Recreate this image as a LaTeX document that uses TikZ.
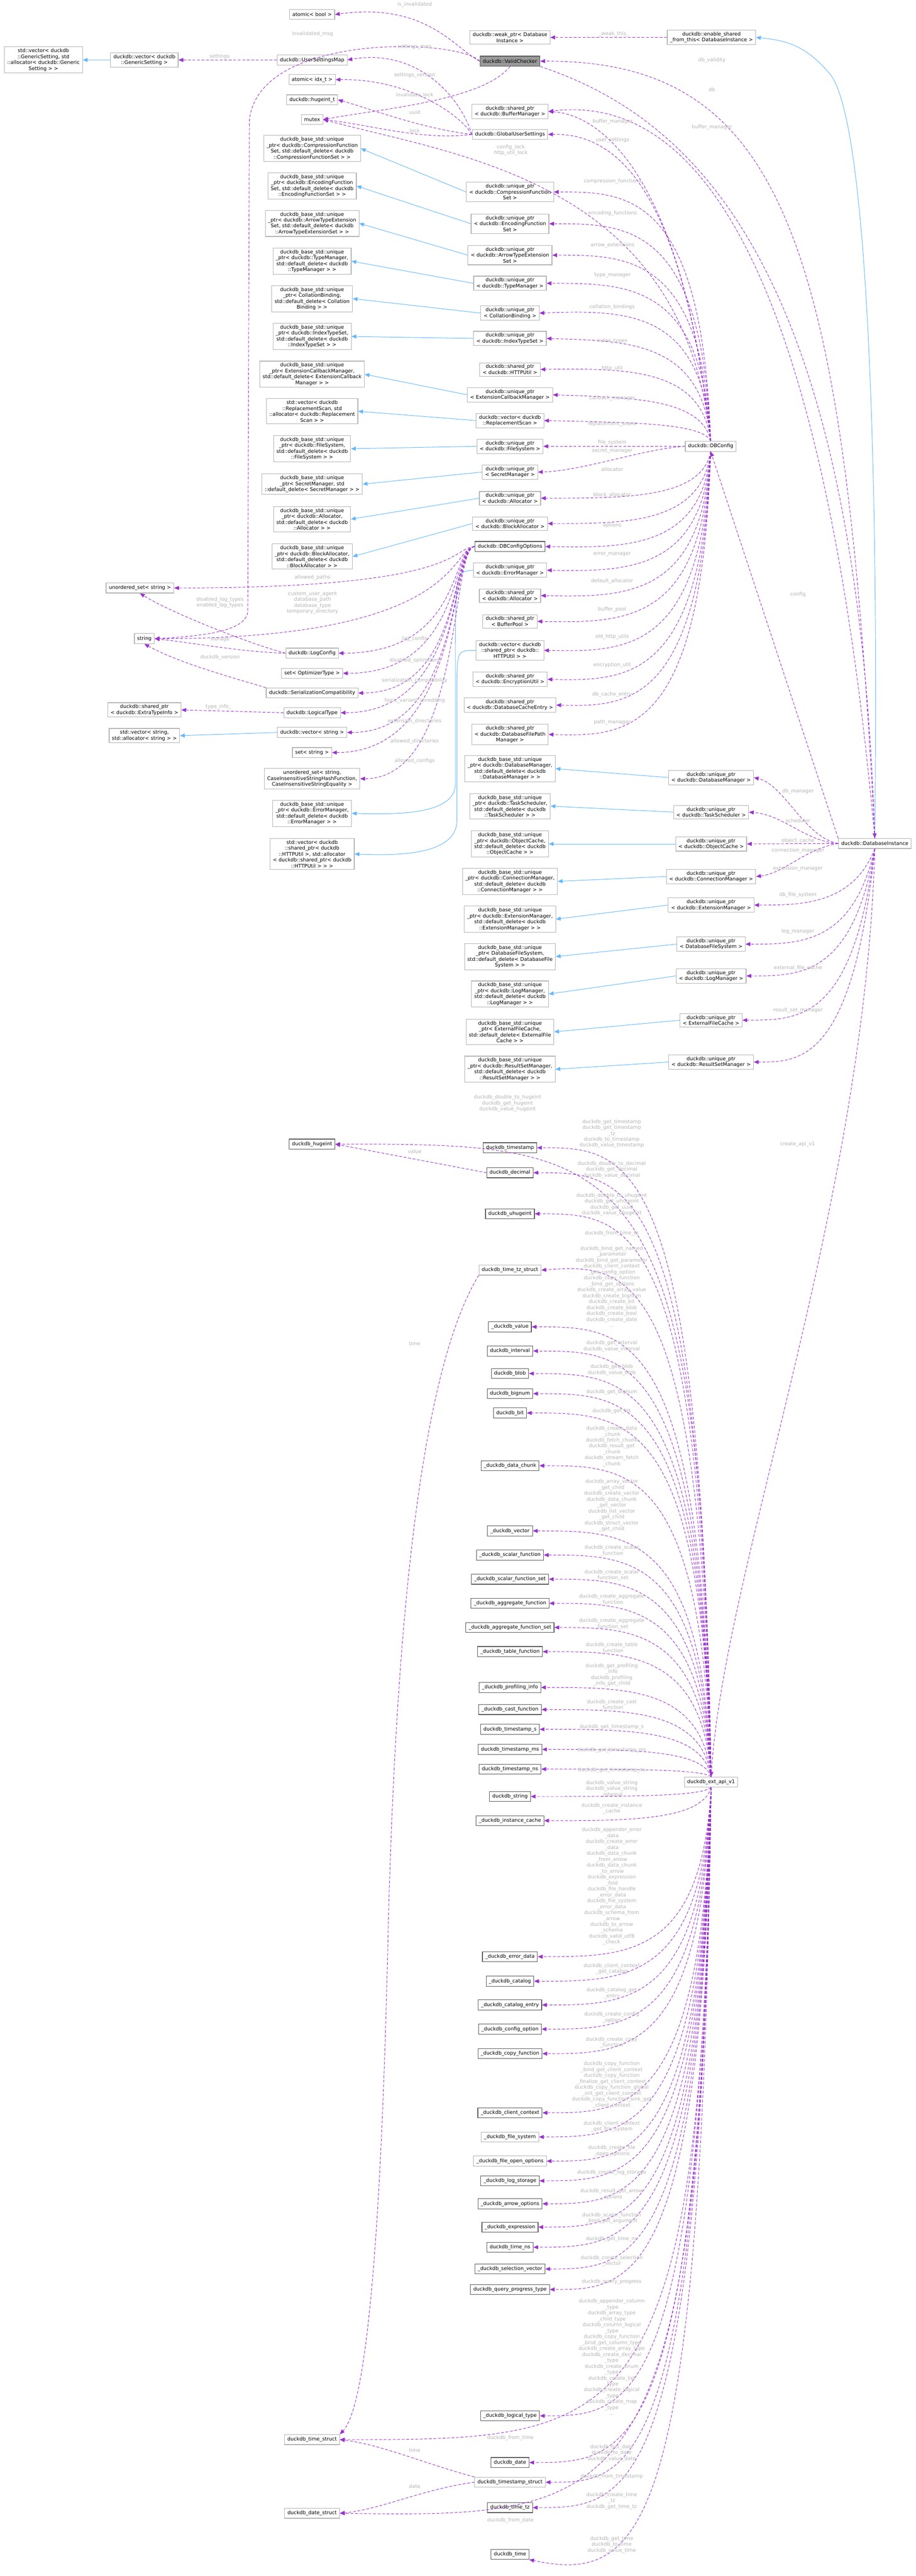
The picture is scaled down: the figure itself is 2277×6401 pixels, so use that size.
\documentclass[tikz,border=0pt]{standalone}
\usepackage{fontspec}
\setmainfont{DejaVu Sans}
\usetikzlibrary{arrows.meta}
\definecolor{purp}{HTML}{9A32CD}
\definecolor{blu}{HTML}{63B8FF}
\definecolor{lgray}{HTML}{B3B3B3}
\newcounter{lc}
\newcommand\Lb[2]{\stepcounter{lc}\node[lbl] (l\thelc) at (#1) {#2};}
\newcommand\CfgN[2]{\draw[mem] (cfg.north) .. controls (1745,#2) and (1560,#2) .. (#1.east);}
\newcommand\CfgS[2]{\draw[mem] (cfg.south) .. controls (1745,#2) and (1560,#2) .. (#1.east);}
\newcommand\ExN[2]{\draw[mem] (ext.north) .. controls (1745,#2) and (1560,#2) .. (#1.east);}
\newcommand\ExS[2]{\draw[mem] (ext.south) .. controls (1745,#2) and (1560,#2) .. (#1.east);}
\newcommand\OpE[2]{\draw[mem] (opt.west) .. controls (1120,1362) and (1150,#2) .. (#1.east);}
\newcommand\DiE[2]{\draw[mem] (di.south) .. controls (2120,#2) and (1990,#2) .. (#1.east);}
\newcommand\Inh[2]{\draw[inh] (#1.west) -- (#2.east);}
\begin{document}
\begin{tikzpicture}[x=0.01cm,y=-0.01cm,
  every node/.style={font=\fontsize{3.55pt}{4.18pt}\selectfont},
  box/.style={draw=lgray,line width=0.4pt,fill=white,align=center,inner xsep=0.07cm,inner ysep=0.045cm,minimum height=0.25cm},
  boxd/.style={box,draw=black!65},
  lbl/.style={text=lgray,align=center,inner sep=0pt},
  mem/.style={purp,line width=0.35pt,dash pattern=on 2pt off 1.2pt,-{Triangle[length=3.4pt,width=2.8pt]}},
  inh/.style={blu,line width=0.35pt,-{Triangle[length=3.4pt,width=2.8pt]}}]
\path[use as bounding box,fill=white] (0,0) rectangle (2277,6401);
% ---------- top nodes
\node[box] (ab) at (776,36) {atomic< bool >};
\node[box] (wp) at (1268,93) {duckdb::weak\_ptr< Database\\Instance >};
\node[box] (esf) at (1769,93) {duckdb::enable\_shared\\\_from\_this< DatabaseInstance >};
\node[box,fill=black!40,draw=black!65] (vc) at (1268,152) {duckdb::ValidChecker};
\node[box] (svgs) at (108,149) {std::vector< duckdb\\::GenericSetting, std\\::allocator< duckdb::Generic\\Setting > >};
\node[box] (vgs) at (359,149) {duckdb::vector< duckdb\\::GenericSetting >};
\node[box] (usm) at (776,149) {duckdb::UserSettingsMap};
\node[box] (aidx) at (776,198) {atomic< idx\_t >};
\node[box] (hug) at (776,248) {duckdb::hugeint\_t};
\node[box] (mtx) at (776,297) {mutex};
\node[box] (bmp) at (1268,277) {duckdb::shared\_ptr\\< duckdb::BufferManager >};
\node[box] (gus) at (1268,334) {duckdb::GlobalUserSettings};
\node[box] (bcomp) at (776,369) {duckdb\_base\_std::unique\\\_ptr< duckdb::CompressionFunction\\Set, std::default\_delete< duckdb\\::CompressionFunctionSet > >};
\node[box] (ucomp) at (1268,477) {duckdb::unique\_ptr\\< duckdb::CompressionFunction\\Set >};
\node[box] (benc) at (776,462) {duckdb\_base\_std::unique\\\_ptr< duckdb::EncodingFunction\\Set, std::default\_delete< duckdb\\::EncodingFunctionSet > >};
\node[box] (uenc) at (1268,556) {duckdb::unique\_ptr\\< duckdb::EncodingFunction\\Set >};
\node[box] (barrow) at (776,555) {duckdb\_base\_std::unique\\\_ptr< duckdb::ArrowTypeExtension\\Set, std::default\_delete< duckdb\\::ArrowTypeExtensionSet > >};
\node[box] (uarrow) at (1268,634) {duckdb::unique\_ptr\\< duckdb::ArrowTypeExtension\\Set >};
\node[box] (btm) at (776,649) {duckdb\_base\_std::unique\\\_ptr< duckdb::TypeManager,\\std::default\_delete< duckdb\\::TypeManager > >};
\node[box] (utm) at (1268,704) {duckdb::unique\_ptr\\< duckdb::TypeManager >};
\node[box] (bcoll) at (776,742) {duckdb\_base\_std::unique\\\_ptr< CollationBinding,\\std::default\_delete< Collation\\Binding > >};
\node[box] (ucoll) at (1268,778) {duckdb::unique\_ptr\\< CollationBinding >};
\node[box] (bidx) at (776,836) {duckdb\_base\_std::unique\\\_ptr< duckdb::IndexTypeSet,\\std::default\_delete< duckdb\\::IndexTypeSet > >};
\node[box] (uidx) at (1268,841) {duckdb::unique\_ptr\\< duckdb::IndexTypeSet >};
\node[box] (shttp) at (1268,918) {duckdb::shared\_ptr\\< duckdb::HTTPUtil >};
\node[box] (bext) at (776,930) {duckdb\_base\_std::unique\\\_ptr< ExtensionCallbackManager,\\std::default\_delete< ExtensionCallback\\Manager > >};
\node[box] (uext) at (1268,981) {duckdb::unique\_ptr\\< ExtensionCallbackManager >};
\node[box] (brep) at (776,1022) {std::vector< duckdb\\::ReplacementScan, std\\::allocator< duckdb::Replacement\\Scan > >};
\node[box] (urep) at (1268,1045) {duckdb::vector< duckdb\\::ReplacementScan >};
\node[box] (bfs) at (776,1115) {duckdb\_base\_std::unique\\\_ptr< duckdb::FileSystem,\\std::default\_delete< duckdb\\::FileSystem > >};
\node[box] (ufs) at (1268,1109) {duckdb::unique\_ptr\\< duckdb::FileSystem >};
\node[box] (usec) at (1268,1173) {duckdb::unique\_ptr\\< SecretManager >};
\node[box] (bsec) at (776,1203) {duckdb\_base\_std::unique\\\_ptr< SecretManager, std\\::default\_delete< SecretManager > >};
\node[box] (ualloc) at (1268,1238) {duckdb::unique\_ptr\\< duckdb::Allocator >};
\node[box] (balloc) at (776,1290) {duckdb\_base\_std::unique\\\_ptr< duckdb::Allocator,\\std::default\_delete< duckdb\\::Allocator > >};
\node[box] (ublk) at (1268,1301) {duckdb::unique\_ptr\\< duckdb::BlockAllocator >};
\node[box] (bblk) at (776,1383) {duckdb\_base\_std::unique\\\_ptr< duckdb::BlockAllocator,\\std::default\_delete< duckdb\\::BlockAllocator > >};
\node[boxd] (opt) at (1268,1358) {duckdb::DBConfigOptions};
\node[box] (uerr) at (1268,1417) {duckdb::unique\_ptr\\< duckdb::ErrorManager >};
\node[box] (salloc) at (1268,1480) {duckdb::shared\_ptr\\< duckdb::Allocator >};
\node[box] (sbp) at (1268,1544) {duckdb::shared\_ptr\\< BufferPool >};
\node[box] (vhttp) at (1268,1616) {duckdb::vector< duckdb\\::shared\_ptr< duckdb::\\HTTPUtil > >};
\node[box] (senc) at (1268,1688) {duckdb::shared\_ptr\\< duckdb::EncryptionUtil >};
\node[box] (sdbc) at (1268,1752) {duckdb::shared\_ptr\\< duckdb::DatabaseCacheEntry >};
\node[box] (sdbp) at (1268,1825) {duckdb::shared\_ptr\\< duckdb::DatabaseFilePath\\Manager >};
\node[box] (cfg) at (1767,1109) {duckdb::DBConfig};
\node[box] (uset) at (348,1461) {unordered\_set< string >};
\node[box] (str) at (359,1587) {string};
\node[box] (logc) at (776,1623) {duckdb::LogConfig};
\node[box] (setopt) at (776,1673) {set< OptimizerType >};
\node[box] (ser) at (776,1722) {duckdb::SerializationCompatibility};
\node[box] (sxti) at (359,1764) {duckdb::shared\_ptr\\< duckdb::ExtraTypeInfo >};
\node[box] (lt) at (776,1771) {duckdb::LogicalType};
\node[box] (svs) at (359,1828) {std::vector< string,\\std::allocator< string > >};
\node[box] (vs) at (776,1820) {duckdb::vector< string >};
\node[box] (sets) at (776,1870) {set< string >};
\node[box] (usci) at (776,1935) {unordered\_set< string,\\CaseInsensitiveStringHashFunction,\\CaseInsensitiveStringEquality >};
\node[box] (berr) at (776,2021) {duckdb\_base\_std::unique\\\_ptr< duckdb::ErrorManager,\\std::default\_delete< duckdb\\::ErrorManager > >};
\node[box] (bvh) at (776,2122) {std::vector< duckdb\\::shared\_ptr< duckdb\\::HTTPUtil >, std::allocator\\< duckdb::shared\_ptr< duckdb\\::HTTPUtil > > >};
% base / unique for DatabaseInstance
\node[box] (bdm) at (1268,1910) {duckdb\_base\_std::unique\\\_ptr< duckdb::DatabaseManager,\\std::default\_delete< duckdb\\::DatabaseManager > >};
\node[box] (bts) at (1268,2003) {duckdb\_base\_std::unique\\\_ptr< duckdb::TaskScheduler,\\std::default\_delete< duckdb\\::TaskScheduler > >};
\node[box] (boc) at (1268,2097) {duckdb\_base\_std::unique\\\_ptr< duckdb::ObjectCache,\\std::default\_delete< duckdb\\::ObjectCache > >};
\node[box] (bcm) at (1268,2190) {duckdb\_base\_std::unique\\\_ptr< duckdb::ConnectionManager,\\std::default\_delete< duckdb\\::ConnectionManager > >};
\node[box] (bem) at (1268,2284) {duckdb\_base\_std::unique\\\_ptr< duckdb::ExtensionManager,\\std::default\_delete< duckdb\\::ExtensionManager > >};
\node[box] (bdfs) at (1268,2377) {duckdb\_base\_std::unique\\\_ptr< DatabaseFileSystem,\\std::default\_delete< DatabaseFile\\System > >};
\node[box] (blm) at (1268,2470) {duckdb\_base\_std::unique\\\_ptr< duckdb::LogManager,\\std::default\_delete< duckdb\\::LogManager > >};
\node[box] (befc) at (1268,2564) {duckdb\_base\_std::unique\\\_ptr< ExternalFileCache,\\std::default\_delete< ExternalFile\\Cache > >};
\node[box] (brsm) at (1268,2657) {duckdb\_base\_std::unique\\\_ptr< duckdb::ResultSetManager,\\std::default\_delete< duckdb\\::ResultSetManager > >};
\node[box] (udm) at (1768,1932) {duckdb::unique\_ptr\\< duckdb::DatabaseManager >};
\node[box] (uts) at (1768,2018) {duckdb::unique\_ptr\\< duckdb::TaskScheduler >};
\node[box] (uoc) at (1768,2097) {duckdb::unique\_ptr\\< duckdb::ObjectCache >};
\node[box] (ucm) at (1768,2178) {duckdb::unique\_ptr\\< duckdb::ConnectionManager >};
\node[box] (uem) at (1768,2249) {duckdb::unique\_ptr\\< duckdb::ExtensionManager >};
\node[box] (udfs) at (1768,2346) {duckdb::unique\_ptr\\< DatabaseFileSystem >};
\node[box] (ulm) at (1768,2425) {duckdb::unique\_ptr\\< duckdb::LogManager >};
\node[box] (uefc) at (1768,2535) {duckdb::unique\_ptr\\< ExternalFileCache >};
\node[box] (ursm) at (1768,2639) {duckdb::unique\_ptr\\< duckdb::ResultSetManager >};
\node[box] (di) at (2175,2096) {duckdb::DatabaseInstance};
% lower nodes
\node[boxd] (hug2) at (776,2843) {duckdb\_hugeint};
\node[boxd] (tsp) at (1268,2852) {duckdb\_timestamp};
\node[boxd] (dec) at (1268,2914) {duckdb\_decimal};
\node[boxd] (uhug) at (1268,3016) {duckdb\_uhugeint};
\node[box] (tzs) at (1268,3156) {duckdb\_time\_tz\_struct};
\node[boxd] (val) at (1268,3297) {\_duckdb\_value};
\node[boxd] (intv) at (1268,3357) {duckdb\_interval};
\node[boxd] (blob) at (1268,3413) {duckdb\_blob};
\node[boxd] (bign) at (1268,3463) {duckdb\_bignum};
\node[boxd] (bit) at (1268,3511) {duckdb\_bit};
\node[boxd] (dch) at (1268,3642) {\_duckdb\_data\_chunk};
\node[boxd] (vec) at (1268,3804) {\_duckdb\_vector};
\node[boxd] (sf) at (1268,3864) {\_duckdb\_scalar\_function};
\node[boxd] (sfs) at (1268,3924) {\_duckdb\_scalar\_function\_set};
\node[boxd] (af) at (1268,3984) {\_duckdb\_aggregate\_function};
\node[boxd] (afs) at (1268,4044) {\_duckdb\_aggregate\_function\_set};
\node[boxd] (tf) at (1268,4104) {\_duckdb\_table\_function};
\node[boxd] (pi) at (1268,4193) {\_duckdb\_profiling\_info};
\node[boxd] (cf) at (1268,4248) {\_duckdb\_cast\_function};
\node[boxd] (tss) at (1268,4297) {duckdb\_timestamp\_s};
\node[boxd] (tsms) at (1268,4347) {duckdb\_timestamp\_ms};
\node[boxd] (tsns) at (1268,4396) {duckdb\_timestamp\_ns};
\node[boxd] (dstr) at (1268,4464) {duckdb\_string};
\node[boxd] (ic) at (1268,4524) {\_duckdb\_instance\_cache};
\node[box] (ext) at (1768,4428) {duckdb\_ext\_api\_v1};
\node[boxd] (err) at (1268,4862) {\_duckdb\_error\_data};
\node[boxd] (cat) at (1268,4923) {\_duckdb\_catalog};
\node[boxd] (cate) at (1268,4982) {\_duckdb\_catalog\_entry};
\node[boxd] (cfo) at (1268,5042) {\_duckdb\_config\_option};
\node[boxd] (cpf) at (1268,5103) {\_duckdb\_copy\_function};
\node[boxd] (cc) at (1268,5250) {\_duckdb\_client\_context};
\node[box] (fsys) at (1268,5310) {\_duckdb\_file\_system};
\node[box] (foo) at (1268,5370) {\_duckdb\_file\_open\_options};
\node[boxd] (lst) at (1268,5419) {\_duckdb\_log\_storage};
\node[boxd] (ao) at (1268,5476) {\_duckdb\_arrow\_options};
\node[boxd] (expr) at (1268,5534) {\_duckdb\_expression};
\node[boxd] (tns) at (1268,5584) {duckdb\_time\_ns};
\node[boxd] (sv) at (1268,5638) {\_duckdb\_selection\_vector};
\node[boxd] (qpt) at (1268,5689) {duckdb\_query\_progress\_type};
\node[boxd] (ltp) at (1268,6003) {\_duckdb\_logical\_type};
\node[boxd] (date) at (1268,6119) {duckdb\_date};
\node[box] (tsst) at (1268,6168) {duckdb\_timestamp\_struct};
\node[boxd] (ttz) at (1268,6231) {duckdb\_time\_tz};
\node[boxd] (tim) at (1268,6347) {duckdb\_time};
\node[box] (tmstr) at (776,6062) {duckdb\_time\_struct};
\node[box] (dtstr) at (776,6245) {duckdb\_date\_struct};
% ---------- inheritance
\Inh{vgs}{svgs}
\Inh{ucomp}{bcomp}\Inh{uenc}{benc}\Inh{uarrow}{barrow}\Inh{utm}{btm}
\Inh{ucoll}{bcoll}\Inh{uidx}{bidx}\Inh{uext}{bext}\Inh{urep}{brep}
\Inh{ufs}{bfs}\Inh{usec}{bsec}\Inh{ualloc}{balloc}\Inh{ublk}{bblk}
\Inh{vs}{svs}
\Inh{udm}{bdm}\Inh{uts}{bts}\Inh{uoc}{boc}\Inh{ucm}{bcm}\Inh{uem}{bem}
\Inh{udfs}{bdfs}\Inh{ulm}{blm}\Inh{uefc}{befc}\Inh{ursm}{brsm}
\draw[inh] (uerr.west) .. controls (1134,1420) .. (1132,1600) -- (1132,1950) .. controls (1130,2021) and (1000,2025) .. (berr.east);
\draw[inh] (vhttp.west) .. controls (1137,1616) .. (1136,1700) -- (1136,2040) .. controls (1134,2122) and (1000,2127) .. (bvh.east);
\draw[inh] (di.north) .. controls (2185,1200) and (2160,280) .. (2060,180) .. controls (2000,110) and (1950,100) .. (esf.east);
% ---------- top member edges
\draw[mem] (esf.west) -- (wp.east);
\draw[mem] (vgs.east) ++(0,0) (usm.west) -- (vgs.east);
\draw[mem] (vc.west) .. controls (1130,120) and (1060,5) .. (ab.east);
\draw[mem] (vc.west) .. controls (1140,95) and (640,80) .. (620,300) -- (616,1520) .. controls (612,1565) and (520,1580) .. (str.east);
\draw[mem] (vc.south) .. controls (1200,250) and (950,270) .. (mtx.east);
\draw[mem] (gus.west) .. controls (1140,230) and (1030,120) .. (usm.east);
\draw[mem] (gus.west) .. controls (1140,280) and (1010,195) .. (aidx.east);
\draw[mem] (gus.west) .. controls (1050,320) and (920,270) .. (hug.east);
\draw[mem] (gus.west) .. controls (1050,350) and (920,310) .. (mtx.east);
\draw[mem] (cfg.north) .. controls (1700,450) and (1150,390) .. (mtx.east);
\draw[mem] (cfg.north) .. controls (1700,500) and (1550,330) .. (gus.east);
\draw[mem] (cfg.north) .. controls (1700,450) and (1500,285) .. (bmp.east);
\draw[mem] (di.north) .. controls (2050,700) and (1750,230) .. (bmp.east);
\draw[mem] (di.north) .. controls (2100,600) and (1950,150) .. (vc.east);
\draw[mem] (vc.south east) .. controls (1750,300) and (2130,700) .. (di.north);
\draw[mem] (di.north west) -- (cfg.south);
% ---------- DBConfig members
\CfgN{ucomp}{477}\CfgN{uenc}{556}\CfgN{uarrow}{634}\CfgN{utm}{704}
\CfgN{ucoll}{770}\CfgN{uidx}{847}\CfgN{shttp}{915}\CfgN{uext}{988}\CfgN{urep}{1050}
\draw[mem] (cfg.west) -- (ufs.east);
\draw[mem] (cfg.west) .. controls (1600,1115) and (1450,1170) .. (usec.east);
\CfgS{ualloc}{1238}\CfgS{ublk}{1301}\CfgS{opt}{1362}\CfgS{uerr}{1420}\CfgS{salloc}{1484}
\CfgS{sbp}{1548}\CfgS{vhttp}{1620}\CfgS{senc}{1692}\CfgS{sdbc}{1756}\CfgS{sdbp}{1830}
% ---------- DBConfigOptions members
\OpE{uset}{1461}\OpE{str}{1587}\OpE{logc}{1623}\OpE{setopt}{1673}\OpE{ser}{1722}
\OpE{lt}{1771}\OpE{vs}{1820}\OpE{sets}{1870}\OpE{usci}{1935}
\draw[mem] (logc.west) .. controls (620,1600) and (420,1520) .. (uset.south);
\draw[mem] (logc.west) .. controls (600,1620) and (500,1600) .. (str.east);
\draw[mem] (ser.north west) .. controls (600,1690) and (450,1650) .. (str.south);
\draw[mem] (lt.west) -- (sxti.east);
% ---------- DatabaseInstance members
\draw[mem] (di.west) .. controls (2000,2080) and (1950,1950) .. (udm.east);
\draw[mem] (di.west) .. controls (2000,2090) and (1950,2025) .. (uts.east);
\draw[mem] (di.west) -- (uoc.east);
\draw[mem] (di.west) .. controls (2000,2110) and (1950,2170) .. (ucm.east);
\DiE{uem}{2249}\DiE{udfs}{2346}\DiE{ulm}{2425}\DiE{uefc}{2535}\DiE{ursm}{2639}
\draw[mem] (di.south) .. controls (2150,3000) and (1800,3900) .. (ext.north);
% ---------- ext api
\ExN{hug2}{2843}\ExN{tsp}{2852}\ExN{dec}{2914}\ExN{uhug}{3016}\ExN{tzs}{3140}
\ExN{val}{3297}\ExN{intv}{3357}\ExN{blob}{3413}\ExN{bign}{3463}\ExN{bit}{3511}
\ExN{dch}{3642}\ExN{vec}{3804}\ExN{sf}{3864}\ExN{sfs}{3924}\ExN{af}{3984}\ExN{afs}{4044}
\ExN{tf}{4104}\ExN{pi}{4193}\ExN{cf}{4248}\ExN{tss}{4297}\ExN{tsms}{4347}\ExN{tsns}{4396}
\ExS{dstr}{4464}\ExS{ic}{4524}\ExS{err}{4862}\ExS{cat}{4923}\ExS{cate}{4982}\ExS{cfo}{5042}
\ExS{cpf}{5103}\ExS{cc}{5250}\ExS{fsys}{5310}\ExS{foo}{5370}\ExS{lst}{5419}\ExS{ao}{5476}
\ExS{expr}{5534}\ExS{tns}{5584}\ExS{sv}{5638}\ExS{qpt}{5689}\ExS{ltp}{6003}
\ExS{tmstr}{6062}\ExS{date}{6119}\ExS{tsst}{6168}\ExS{ttz}{6231}\ExS{dtstr}{6255}
\draw[mem] (ext.south) .. controls (1745,6300) and (1600,6420) .. (tim.south east);
\draw[mem] (dec.west) -- (hug2.east);
\draw[mem] (tzs.south west) .. controls (1080,3350) and (990,3800) .. (965,4800) .. controls (945,5700) and (900,5990) .. (tmstr.north east);
\draw[mem] (tsst.north west) .. controls (1050,6120) and (950,6075) .. (tmstr.east);
\draw[mem] (tsst.west) .. controls (1050,6185) and (950,6235) .. (dtstr.east);
% ---------- labels
\Lb{1031,11}{is\_invalidated}
\Lb{777,85}{invalidated\_msg}
\Lb{1031,116}{settings\_map}
\Lb{546,141}{settings}
\Lb{1031,187}{settings\_version}
\Lb{1031,237}{invalidate\_lock}
\Lb{1031,279}{uuid}
\Lb{1031,325}{lock}
\Lb{1526,85}{\_weak\_this\_}
\Lb{1770,150}{db\_validity}
\Lb{1770,222}{db}
\Lb{1523,302}{buffer\_manager}
\Lb{1770,316}{buffer\_manager}
\Lb{1523,348}{user\_settings}
\Lb{1270,373}{config\_lock\\http\_util\_lock}
\Lb{1523,450}{compression\_functions}
\Lb{1523,530}{encoding\_functions}
\Lb{1523,609}{arrow\_extensions}
\Lb{1523,684}{type\_manager}
\Lb{1522,763}{collation\_bindings}
\Lb{1522,847}{index\_types}
\Lb{1522,915}{http\_util}
\Lb{1522,990}{callback\_manager}
\Lb{1522,1054}{replacement\_scans}
\Lb{1522,1099}{file\_system}
\Lb{1522,1120}{secret\_manager}
\Lb{1522,1166}{allocator}
\Lb{1522,1230}{block\_allocator}
\Lb{1522,1305}{options}
\Lb{1522,1377}{error\_manager}
\Lb{1522,1444}{default\_allocator}
\Lb{1522,1514}{buffer\_pool}
\Lb{1522,1582}{old\_http\_utils}
\Lb{1522,1653}{encryption\_util}
\Lb{1522,1726}{db\_cache\_entry}
\Lb{1522,1795}{path\_manager}
\Lb{1984,1477}{config}
\Lb{777,1435}{allowed\_paths}
\Lb{777,1498}{custom\_user\_agent\\database\_path\\database\_type\\temporary\_directory}
\Lb{547,1497}{disabled\_log\_types\\enabled\_log\_types}
\Lb{547,1589}{storage}
\Lb{547,1634}{duckdb\_version}
\Lb{1031,1587}{log\_config}
\Lb{1031,1641}{disabled\_optimizers}
\Lb{1031,1691}{serialization\_compatibility}
\Lb{1031,1741}{force\_variant\_shredding}
\Lb{543,1756}{type\_info\_}
\Lb{1031,1792}{extension\_directories}
\Lb{1031,1842}{allowed\_directories}
\Lb{1031,1891}{allowed\_configs}
\Lb{1984,1966}{db\_manager}
\Lb{1984,2039}{scheduler}
\Lb{1984,2089}{object\_cache}
\Lb{1984,2114}{connection\_manager}
\Lb{1984,2158}{extension\_manager}
\Lb{1984,2224}{db\_file\_system}
\Lb{1984,2314}{log\_manager}
\Lb{1984,2405}{external\_file\_cache}
\Lb{1984,2511}{result\_set\_manager}
\Lb{1983,2843}{create\_api\_v1}
\Lb{1262,2742}{duckdb\_double\_to\_hugeint\\duckdb\_get\_hugeint\\duckdb\_value\_hugeint}
\Lb{1031,2861}{value}
\Lb{1521,2817}{duckdb\_get\_timestamp\\duckdb\_get\_timestamp\\\_tz\\duckdb\_to\_timestamp\\duckdb\_value\_timestamp}
\Lb{1521,2906}{duckdb\_double\_to\_decimal\\duckdb\_get\_decimal\\duckdb\_value\_decimal}
\Lb{1521,2993}{duckdb\_double\_to\_uhugeint\\duckdb\_get\_uhugeint\\duckdb\_get\_uuid\\duckdb\_value\_uhugeint}
\Lb{1521,3065}{duckdb\_from\_time\_tz}
\Lb{1031,3339}{time}
\Lb{1521,3197}{duckdb\_bind\_get\_named\\\_parameter\\duckdb\_bind\_get\_parameter\\duckdb\_client\_context\\\_get\_config\_option\\duckdb\_copy\_function\\\_bind\_get\_options\\duckdb\_create\_array\_value\\duckdb\_create\_bignum\\duckdb\_create\_bit\\duckdb\_create\_blob\\duckdb\_create\_bool\\duckdb\_create\_date\\...}
\Lb{1521,3345}{duckdb\_get\_interval\\duckdb\_value\_interval}
\Lb{1521,3404}{duckdb\_get\_blob\\duckdb\_value\_blob}
\Lb{1521,3459}{duckdb\_get\_bignum}
\Lb{1521,3506}{duckdb\_get\_bit}
\Lb{1521,3594}{duckdb\_create\_data\\\_chunk\\duckdb\_fetch\_chunk\\duckdb\_result\_get\\\_chunk\\duckdb\_stream\_fetch\\\_chunk}
\Lb{1521,3741}{duckdb\_array\_vector\\\_get\_child\\duckdb\_create\_vector\\duckdb\_data\_chunk\\\_get\_vector\\duckdb\_list\_vector\\\_get\_child\\duckdb\_struct\_vector\\\_get\_child}
\Lb{1521,3853}{duckdb\_create\_scalar\\\_function}
\Lb{1521,3914}{duckdb\_create\_scalar\\\_function\_set}
\Lb{1521,3975}{duckdb\_create\_aggregate\\\_function}
\Lb{1521,4035}{duckdb\_create\_aggregate\\\_function\_set}
\Lb{1521,4095}{duckdb\_create\_table\\\_function}
\Lb{1521,4162}{duckdb\_get\_profiling\\\_info\\duckdb\_profiling\\\_info\_get\_child}
\Lb{1521,4237}{duckdb\_create\_cast\\\_function}
\Lb{1521,4291}{duckdb\_get\_timestamp\_s}
\Lb{1521,4349}{duckdb\_get\_timestamp\_ms}
\Lb{1521,4398}{duckdb\_get\_timestamp\_ns}
\Lb{1521,4445}{duckdb\_value\_string\\duckdb\_value\_string\\\_internal}
\Lb{1521,4494}{duckdb\_create\_instance\\\_cache}
\Lb{1521,4693}{duckdb\_appender\_error\\\_data\\duckdb\_create\_error\\\_data\\duckdb\_data\_chunk\\\_from\_arrow\\duckdb\_data\_chunk\\\_to\_arrow\\duckdb\_expression\\\_fold\\duckdb\_file\_handle\\\_error\_data\\duckdb\_file\_system\\\_error\_data\\duckdb\_schema\_from\\\_arrow\\duckdb\_to\_arrow\\\_schema\\duckdb\_valid\_utf8\\\_check\\...}
\Lb{1521,4892}{duckdb\_client\_context\\\_get\_catalog}
\Lb{1521,4953}{duckdb\_catalog\_get\\\_entry}
\Lb{1521,5013}{duckdb\_create\_config\\\_option}
\Lb{1521,5075}{duckdb\_create\_copy\\\_function}
\Lb{1521,5180}{duckdb\_copy\_function\\\_bind\_get\_client\_context\\duckdb\_copy\_function\\\_finalize\_get\_client\_context\\duckdb\_copy\_function\_global\\\_init\_get\_client\_context\\duckdb\_copy\_function\_sink\_get\\\_client\_context}
\Lb{1521,5284}{duckdb\_client\_context\\\_get\_file\_system}
\Lb{1521,5345}{duckdb\_create\_file\\\_open\_options}
\Lb{1521,5398}{duckdb\_create\_log\_storage}
\Lb{1521,5452}{duckdb\_result\_get\_arrow\\\_options}
\Lb{1521,5512}{duckdb\_scalar\_function\\\_bind\_get\_argument}
\Lb{1521,5564}{duckdb\_get\_time\_ns}
\Lb{1521,5618}{duckdb\_create\_selection\\\_vector}
\Lb{1521,5670}{duckdb\_query\_progress}
\Lb{1521,5857}{duckdb\_appender\_column\\\_type\\duckdb\_array\_type\\\_child\_type\\duckdb\_column\_logical\\\_type\\duckdb\_copy\_function\\\_bind\_get\_column\_type\\duckdb\_create\_array\_type\\duckdb\_create\_decimal\\\_type\\duckdb\_create\_enum\\\_type\\duckdb\_create\_list\\\_type\\duckdb\_create\_logical\\\_type\\duckdb\_create\_map\\\_type\\...}
\Lb{1269,6058}{duckdb\_from\_time}
\Lb{1031,6089}{time}
\Lb{1521,6095}{duckdb\_get\_date\\duckdb\_to\_date\\duckdb\_value\_date}
\Lb{1521,6154}{duckdb\_from\_timestamp}
\Lb{1031,6178}{date}
\Lb{1521,6214}{duckdb\_create\_time\\\_tz\\duckdb\_get\_time\_tz}
\Lb{1269,6263}{duckdb\_from\_date}
\Lb{1521,6323}{duckdb\_get\_time\\duckdb\_to\_time\\duckdb\_value\_time}
\end{tikzpicture}
\end{document}
